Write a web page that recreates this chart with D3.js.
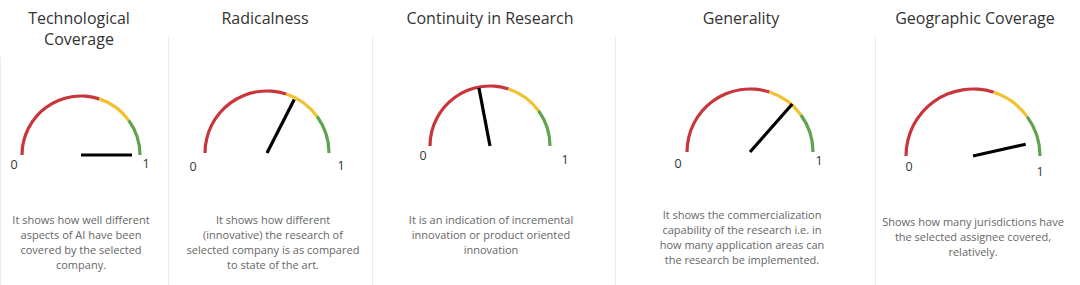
<!DOCTYPE html>
<html>
<head>
<meta charset="utf-8">
<script src="https://d3js.org/d3.v7.min.js"></script>
<style>
  body { margin: 0; background: #fff; }
  svg { display: block; font-family: "Open Sans", "Noto Sans", sans-serif; }
</style>
</head>
<body>
<svg id="vis"></svg>
<script>
    // Gauge data
    var titles = [
        ["Technological", "Coverage"],
        ["Radicalness"],
        ["Continuity in Research"],
        ["Generality"],
        ["Geographic Coverage"]
    ]
    var values = [1.0, 0.65, 0.44, 0.73, 0.93]
    var descriptions = [
        ["It shows how well different", "aspects of AI have been", "covered by the selected", "company."],
        ["It shows how different", "(innovative) the research of", "selected company is as compared", "to state of the art."],
        ["It is an indication of incremental", "innovation or product oriented", "innovation"],
        ["It shows the commercialization", "capability of the research i.e. in", "how many application areas can", "the research be implemented."],
        ["Shows how many jurisdictions have", "the selected assignee covered,", "relatively."]
    ]
    var bandBreaks = [0, 0.6, 0.8, 1]
    var bandColors = ["#c8363c", "#f2c12e", "#5ea34d"]
    var tickLabels = ["0", "1"]

    // Layout of each panel (not data)
    var panelEdges = [0, 168, 372, 615, 875, 1080]
    var layout = [
        {cx: 81,  cy: 155, r: 59, needle: 51, d0: [-8, 9],  d1: [6, 8],   titleX: 79,  textX: 81,  textY: 220},
        {cx: 267, cy: 153, r: 62, needle: 60, d0: [-12, 13], d1: [12, 12], titleX: 265, textX: 273, textY: 220},
        {cx: 490, cy: 146, r: 60, needle: 59, d0: [-7, 9],  d1: [15, 13], titleX: 490, textX: 491, textY: 220},
        {cx: 750, cy: 152, r: 63, needle: 64, d0: [-9, 11], d1: [6, 8],   titleX: 741, textX: 742, textY: 215},
        {cx: 973, cy: 156, r: 67, needle: 54, d0: [3, 10],  d1: [0, 15],  titleX: 975, textX: 973, textY: 222}
    ]

    var width = 1080, height = 285

    var svg = d3.select("#vis")
        .attr("width", width)
        .attr("height", height)

    // value -> angle (d3.arc convention: 0 = 12 o'clock)
    var angle = d3.scaleLinear()
        .domain([0, 1])
        .range([-Math.PI / 2, Math.PI / 2])

    // panel separators
    svg.selectAll(".sep")
        .data(panelEdges.slice(0, 5))
        .enter().append("line")
        .attr("x1", function(d) { return d + 0.5 })
        .attr("x2", function(d) { return d + 0.5 })
        .attr("y1", function(d, i) { return i == 0 ? 57 : 36 })
        .attr("y2", height)
        .attr("stroke", "#ececec")
        .attr("stroke-width", 1)

    values.forEach(function(v, i) {
        var L = layout[i]
        var g = svg.append("g")

        // title
        var title = g.append("text")
            .attr("text-anchor", "middle")
            .attr("fill", "#333")
            .style("font-size", "16px")
        title.selectAll("tspan")
            .data(titles[i])
            .enter().append("tspan")
            .attr("x", L.titleX)
            .attr("y", function(d, j) { return 24 + j * 21 })
            .text(function(d) { return d })

        // coloured bands
        var arc = d3.arc()
            .innerRadius(L.r - 1.6)
            .outerRadius(L.r + 1.6)
        var bands = bandColors.map(function(c, j) {
            return {start: bandBreaks[j], end: bandBreaks[j + 1], color: c}
        })
        g.append("g")
            .attr("transform", "translate(" + L.cx + "," + L.cy + ")")
            .selectAll("path")
            .data(bands)
            .enter().append("path")
            .attr("d", function(d) {
                return arc({startAngle: angle(d.start), endAngle: angle(d.end)})
            })
            .attr("fill", function(d) { return d.color })

        // needle
        var a = angle(v)
        g.append("line")
            .attr("x1", L.cx)
            .attr("y1", L.cy)
            .attr("x2", L.cx + L.needle * Math.sin(a))
            .attr("y2", L.cy - L.needle * Math.cos(a))
            .attr("stroke", "#000")
            .attr("stroke-width", 3.2)

        // 0 / 1 labels
        g.selectAll(".tick")
            .data(tickLabels)
            .enter().append("text")
            .attr("x", function(d, j) {
                var off = j == 0 ? L.d0 : L.d1
                return L.cx + L.r * Math.sin(angle(+d)) + off[0]
            })
            .attr("y", function(d, j) {
                var off = j == 0 ? L.d0 : L.d1
                return L.cy - L.r * Math.cos(angle(+d)) + off[1] + 4.5
            })
            .attr("text-anchor", "middle")
            .attr("fill", "#333")
            .style("font-size", "12.5px")
            .text(function(d) { return d })

        // description
        g.append("text")
            .attr("text-anchor", "middle")
            .attr("fill", "#666")
            .style("font-size", "11px")
            .selectAll("tspan")
            .data(descriptions[i])
            .enter().append("tspan")
            .attr("x", L.textX)
            .attr("y", function(d, j) { return L.textY + 4 + j * 15 })
            .text(function(d) { return d })
    })
</script>
</body>
</html>
